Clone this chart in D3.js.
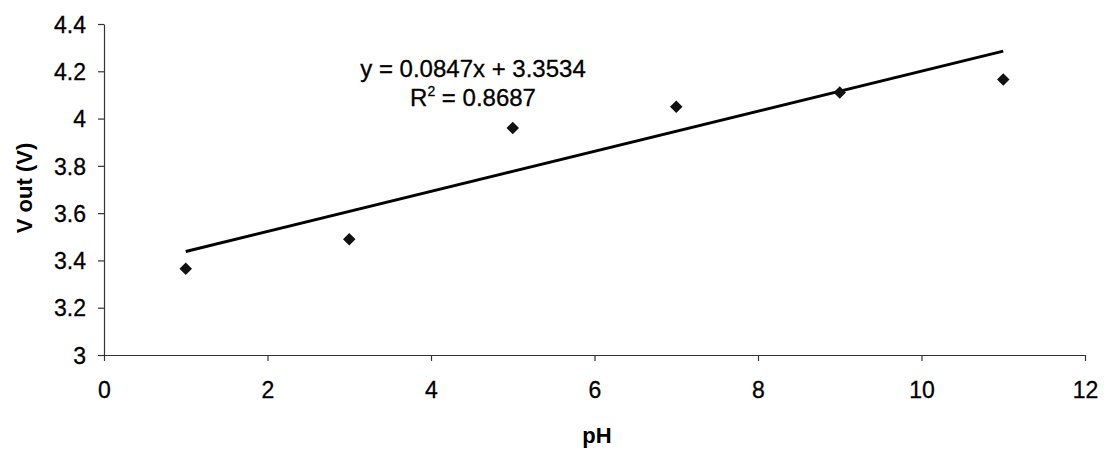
<!DOCTYPE html>
<html><head><meta charset="utf-8">
<script src="https://cdn.jsdelivr.net/npm/d3@7"></script>
<style>body{margin:0;background:#fff}svg{display:block}text{font-family:Arial,"Liberation Sans",sans-serif}</style>
</head><body>
<script>
const phValues = [1, 3, 5, 7, 9, 11];
const voutValues = [3.365, 3.49, 3.96, 4.05, 4.11, 4.165];
const xTicks = [0, 2, 4, 6, 8, 10, 12];
const yTicks = [3, 3.2, 3.4, 3.6, 3.8, 4, 4.2, 4.4];
const trendSlope = 0.0847, trendIntercept = 3.3534;
const trendRange = [1, 11];
const eqLabel = "y = 0.0847x + 3.3534";
const r2Value = "0.8687";

const W = 1105, H = 462;
const svg = d3.select("body").append("svg").attr("width", W).attr("height", H);
const x = d3.scaleLinear().domain([0, 12]).range([104, 1085]);
const y = d3.scaleLinear().domain([3, 4.4]).range([355, 24]);

const fmt = d => String(+d.toFixed(1));
const gx = svg.append("g").attr("transform", `translate(0,${y(3)})`)
  .call(d3.axisBottom(x).tickValues(xTicks).tickFormat(fmt).tickSize(6).tickSizeOuter(0));
const gy = svg.append("g").attr("transform", `translate(${x(0)},0)`)
  .call(d3.axisLeft(y).tickValues(yTicks).tickFormat(fmt).tickSize(6).tickSizeOuter(0));
[gx, gy].forEach(g => {
  g.selectAll("path,line").attr("stroke", "#333").attr("stroke-width", 1.2);
  g.selectAll("text").attr("font-size", 23).attr("fill", "#000")
   .attr("stroke", "#000").attr("stroke-width", 0.3)
   .attr("font-family", "Arial, 'Liberation Sans', sans-serif");
});
gx.selectAll("text").attr("y", 0).attr("dy", 0).attr("transform", "translate(0,43)");
gy.selectAll("text").attr("x", -18).attr("dy", "0.36em");

// trend line
svg.append("path")
  .datum(trendRange.map(v => [v, trendSlope * v + trendIntercept]))
  .attr("d", d3.line().x(d => x(d[0])).y(d => y(d[1])))
  .attr("stroke", "#000").attr("stroke-width", 3).attr("fill", "none");

// points
svg.append("g").selectAll("path").data(phValues).join("path")
  .attr("transform", (d, i) => `translate(${x(d)},${y(voutValues[i])})`)
  .attr("d", d3.symbol().type(d3.symbolDiamond2).size(100))
  .attr("fill", "#111");

// equation
svg.append("text").attr("x", 473).attr("y", 77).attr("text-anchor", "middle")
  .attr("font-size", 24).attr("fill", "#000").attr("stroke", "#000").attr("stroke-width", 0.3).text(eqLabel);
const r2 = svg.append("text").attr("x", 473).attr("y", 106).attr("text-anchor", "middle")
  .attr("font-size", 24).attr("fill", "#000").attr("stroke", "#000").attr("stroke-width", 0.3);
r2.append("tspan").text("R");
r2.append("tspan").attr("font-size", 14).attr("dy", -10).text("2");
r2.append("tspan").attr("dy", 10).text(" = " + r2Value);

// axis titles
svg.append("text").attr("x", 597).attr("y", 443).attr("text-anchor", "middle")
  .attr("font-size", 22).attr("font-weight", "bold").attr("fill", "#000").text("pH");
svg.append("text").attr("transform", `translate(32,188) rotate(-90)`)
  .attr("text-anchor", "middle").attr("font-size", 22).attr("font-weight", "bold")
  .attr("fill", "#000").text("V out (V)");
</script>
</body></html>
